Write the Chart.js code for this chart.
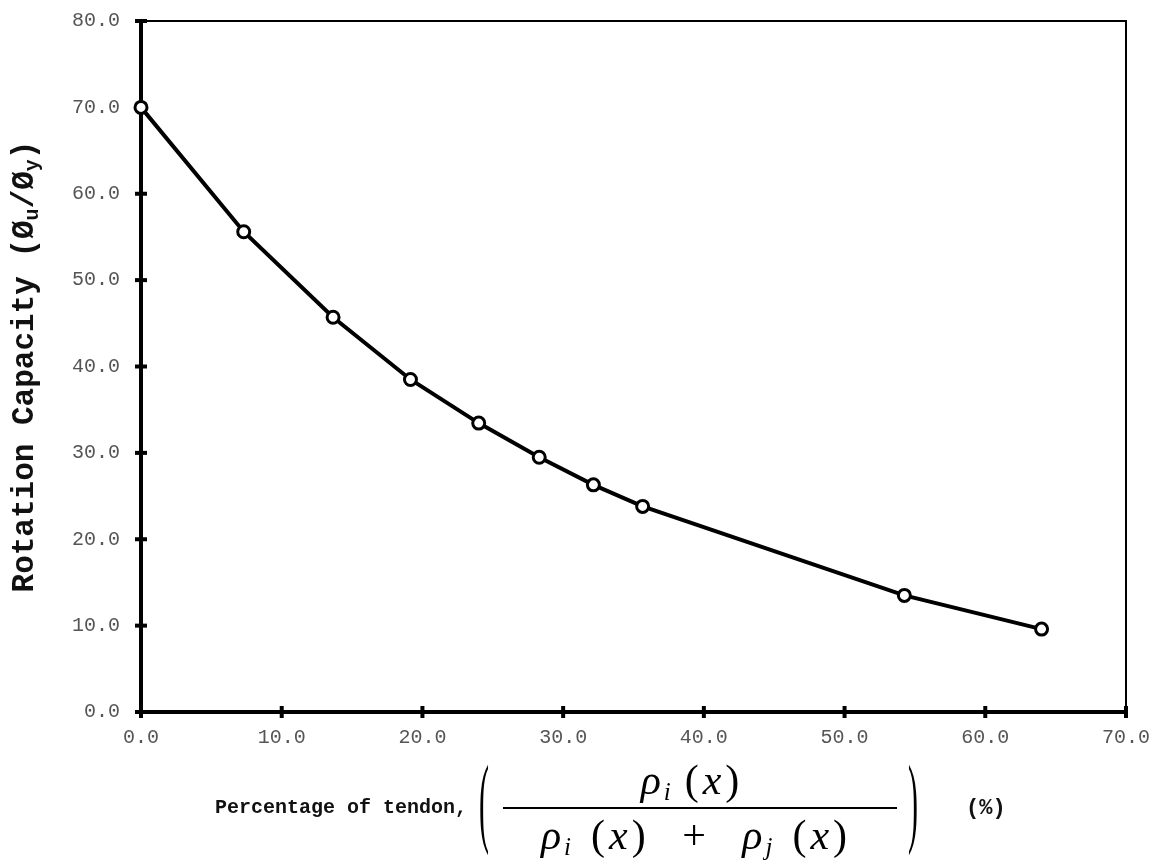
<!DOCTYPE html>
<html><head><meta charset="utf-8">
<script src="https://cdn.jsdelivr.net/npm/chart.js@4/dist/chart.umd.min.js"></script>
<style>html,body{margin:0;padding:0;background:#fff;} canvas{display:block;}</style>
</head><body>
<canvas id="c" width="1157" height="861"></canvas>
<script>
// ---- data ----
const tendonPct = [0.0, 7.3, 13.65, 19.15, 24.0, 28.3, 32.15, 35.65, 54.25, 64.0];
const rotationCapacity = [70.0, 55.6, 45.7, 38.5, 33.45, 29.5, 26.3, 23.8, 13.5, 9.6];
const xTickValues = [0, 10, 20, 30, 40, 50, 60, 70];
const yTickValues = [0, 10, 20, 30, 40, 50, 60, 70, 80];
const xTitleText = 'Percentage of tendon,';
const unitText = '(%)';
const yTitleParts = [['Rotation Capacity (\u00D8', false], ['u', true], ['/\u00D8', false], ['y', true], [')', false]];

const MONO = '"Liberation Mono", "Courier New", monospace';
const SERIF = '"Liberation Serif", "Times New Roman", serif';

function richWidth(ctx, segs) {
  let w = 0;
  for (const s of segs) { ctx.font = s.font; w += ctx.measureText(s.t).width + (s.gap || 0); }
  return w;
}
function drawRich(ctx, segs, x, y) {
  let cx = x;
  for (const s of segs) {
    ctx.font = s.font;
    ctx.fillText(s.t, cx, y + (s.dy || 0));
    cx += ctx.measureText(s.t).width + (s.gap || 0);
  }
}

const framePlugin = {
  id: 'frame',
  beforeDatasetsDraw(chart) {
    const {ctx, chartArea: a, scales: {x, y}} = chart;
    ctx.save();
    ctx.strokeStyle = '#000';
    ctx.lineWidth = 2;
    ctx.beginPath();
    ctx.moveTo(a.left, a.top); ctx.lineTo(a.right, a.top); ctx.lineTo(a.right, a.bottom);
    ctx.stroke();
    ctx.lineWidth = 4;
    ctx.beginPath();
    ctx.moveTo(a.left, a.top - 1); ctx.lineTo(a.left, a.bottom); ctx.lineTo(a.right, a.bottom);
    ctx.stroke();
    for (const v of xTickValues) {
      const px = x.getPixelForValue(v);
      ctx.beginPath(); ctx.moveTo(px, a.bottom - 6); ctx.lineTo(px, a.bottom + 6); ctx.stroke();
    }
    for (const v of yTickValues) {
      const py = y.getPixelForValue(v);
      ctx.beginPath(); ctx.moveTo(a.left - 6, py); ctx.lineTo(a.left + 6, py); ctx.stroke();
    }
    ctx.restore();
  },
  afterDraw(chart) {
    const {ctx, chartArea: a} = chart;
    ctx.save();
    ctx.fillStyle = '#111';
    ctx.textBaseline = 'middle';
    ctx.textAlign = 'left';
    // y title (rotated)
    const yBig = 'bold 31px ' + MONO, ySmall = 'bold 20px ' + MONO;
    const ySegs = yTitleParts.map(([t, sub]) => ({t, font: sub ? ySmall : yBig, dy: sub ? 8 : 0}));
    const yw = richWidth(ctx, ySegs);
    ctx.save();
    ctx.translate(25, (a.top + a.bottom) / 2);
    ctx.rotate(-Math.PI / 2);
    drawRich(ctx, ySegs, -yw / 2, 0);
    ctx.restore();

    // x title
    const midY = 808;
    ctx.font = 'bold 20px ' + MONO;
    ctx.fillText(xTitleText, 215, midY);
    // fraction
    const it = 'italic 42px ' + SERIF, up = '42px ' + SERIF, sb = 'italic 25px ' + SERIF;
    const term = (sub, g) => [{t: '\u03C1', font: it, gap: 3}, {t: sub, font: sb, dy: 10, gap: g}, {t: '(', font: up, gap: 4}, {t: 'x', font: it, gap: 4}, {t: ')', font: up}];
    const fracL = 503, fracR = 897, fracC = (fracL + fracR) / 2;
    ctx.fillStyle = '#000';
    const num = term('i', 14);
    drawRich(ctx, num, fracC - 10 - richWidth(ctx, num) / 2, 783);
    const den = term('i', 20).concat([{t: ' ', font: up, gap: 26}, {t: '+', font: up, gap: 26}, {t: ' ', font: up}]).concat(term('j', 20));
    drawRich(ctx, den, fracC - 6 - richWidth(ctx, den) / 2, 838);
    ctx.fillRect(fracL, midY - 1, fracR - fracL, 2);
    // big parentheses
    ctx.font = '30px ' + SERIF;
    ctx.save(); ctx.translate(484, midY); ctx.scale(1, 3.3); ctx.textAlign = 'center'; ctx.fillText('(', 0, 0); ctx.restore();
    ctx.save(); ctx.translate(913, midY); ctx.scale(1, 3.3); ctx.textAlign = 'center'; ctx.fillText(')', 0, 0); ctx.restore();
    ctx.fillStyle = '#111';
    ctx.font = 'bold 22px ' + MONO;
    ctx.fillText(unitText, 966, midY);
    ctx.restore();
  }
};

new Chart(document.getElementById('c'), {
  type: 'scatter',
  data: {
    datasets: [{
      data: tendonPct.map((v, i) => ({x: v, y: rotationCapacity[i]})),
      showLine: true,
      borderColor: '#000',
      borderWidth: 4,
      tension: 0,
      pointRadius: 6,
      pointBorderWidth: 3,
      pointBackgroundColor: '#fff',
      pointBorderColor: '#000',
      clip: false
    }]
  },
  options: {
    responsive: false,
    animation: false,
    devicePixelRatio: 1,
    layout: {padding: {top: 21, right: 31, left: 0, bottom: 0}},
    plugins: {legend: {display: false}, tooltip: {enabled: false}},
    scales: {
      x: {
        type: 'linear', min: 0, max: 70,
        afterBuildTicks: s => { s.ticks = xTickValues.map(v => ({value: v})); },
        afterFit: s => { s.height = 149; s.paddingLeft = 0; s.paddingRight = 0; },
        grid: {display: false, drawTicks: false},
        border: {display: false},
        ticks: {padding: 14, color: '#555', font: {family: MONO, size: 20}, callback: v => Number(v).toFixed(1), maxRotation: 0, autoSkip: false}
      },
      y: {
        type: 'linear', min: 0, max: 80,
        afterBuildTicks: s => { s.ticks = yTickValues.map(v => ({value: v})); },
        afterFit: s => { s.width = 141; s.paddingTop = 0; s.paddingBottom = 0; },
        grid: {display: false, drawTicks: false},
        border: {display: false},
        ticks: {padding: 21, color: '#555', font: {family: MONO, size: 20}, callback: v => Number(v).toFixed(1), autoSkip: false}
      }
    }
  },
  plugins: [framePlugin]
});
</script>
</body></html>
